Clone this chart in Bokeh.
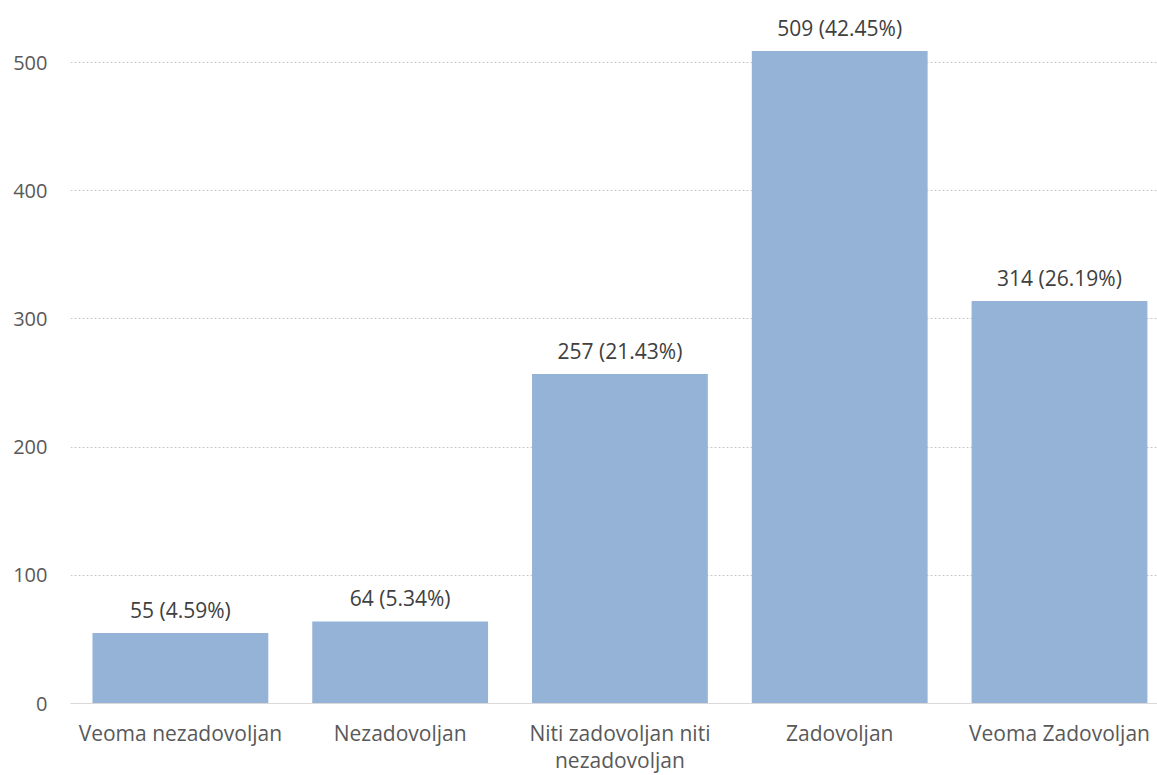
from bokeh.plotting import figure
from bokeh.models import ColumnDataSource, FixedTicker, Range1d
from bokeh.layouts import column
from bokeh.embed import file_html
from bokeh.resources import INLINE
from bokeh.core.properties import value

categories = ["Veoma nezadovoljan", "Nezadovoljan", "Niti zadovoljan niti\nnezadovoljan", "Zadovoljan", "Veoma Zadovoljan"]
counts = [55, 64, 257, 509, 314]
percents = ["4.59%", "5.34%", "21.43%", "42.45%", "26.19%"]
y_ticks = [0, 100, 200, 300, 400, 500]

labels = [f"{c} ({p})" for c, p in zip(counts, percents)]
xpos = [i + 0.5 for i in range(len(categories))]
zeros = [0] * len(categories)
src = ColumnDataSource(dict(x=xpos, cat=categories, val=counts, lab=labels, z=zeros))

FONT = "Open Sans"
TXT = "#595959"

xr = Range1d(0, 4.946)
p = figure(x_range=xr, y_range=Range1d(0, 548.4),
           width=1157, height=716, output_backend="svg", toolbar_location=None,
           min_border_left=70, min_border_right=0, min_border_top=0, min_border_bottom=13)
p.outline_line_color = None
p.background_fill_color = "white"
p.border_fill_color = "white"

p.vbar(x="x", top="val", width=0.80, source=src, fill_color="#95B3D7", line_color=None)
p.text(x="x", y="val", text="lab", source=src, text_align="center", text_baseline="bottom",
       y_offset=-9, text_font=value(FONT), text_font_size="21px", text_color="#404040")

p.xgrid.grid_line_color = None
p.ygrid.grid_line_color = "#c8c8c8"
p.ygrid.grid_line_dash = "2 2"
p.ygrid.grid_line_width = 1

p.yaxis.ticker = FixedTicker(ticks=y_ticks)
p.yaxis.axis_line_color = None
p.yaxis.major_tick_line_color = None
p.yaxis.minor_tick_line_color = None
p.yaxis.major_label_standoff = 17
p.yaxis.major_label_text_font = FONT
p.yaxis.major_label_text_font_size = "20px"
p.yaxis.major_label_text_color = TXT

p.xaxis.ticker = FixedTicker(ticks=[])
p.xaxis.axis_line_color = "#d9d9d9"
p.xaxis.axis_line_width = 1
p.xaxis.major_tick_line_color = None
p.xaxis.minor_tick_line_color = None
p.xaxis.major_tick_out = 0
p.xaxis.major_label_standoff = 0

# category labels panel below the plot
p2 = figure(x_range=xr, y_range=Range1d(59, 0),
            width=1157, height=59, output_backend="svg", toolbar_location=None,
            min_border_left=70, min_border_right=0, min_border_top=0, min_border_bottom=0)
p2.axis.visible = False
p2.grid.visible = False
p2.outline_line_color = None
p2.text(x="x", y="z", text="cat", source=src, text_align="center", text_baseline="top",
        y_offset=2, text_font=value(FONT), text_font_size="21px", text_color=TXT,
        text_line_height=0.98)

layout = column(p, p2, spacing=0)
open("out.html", "w").write(file_html(layout, INLINE))
